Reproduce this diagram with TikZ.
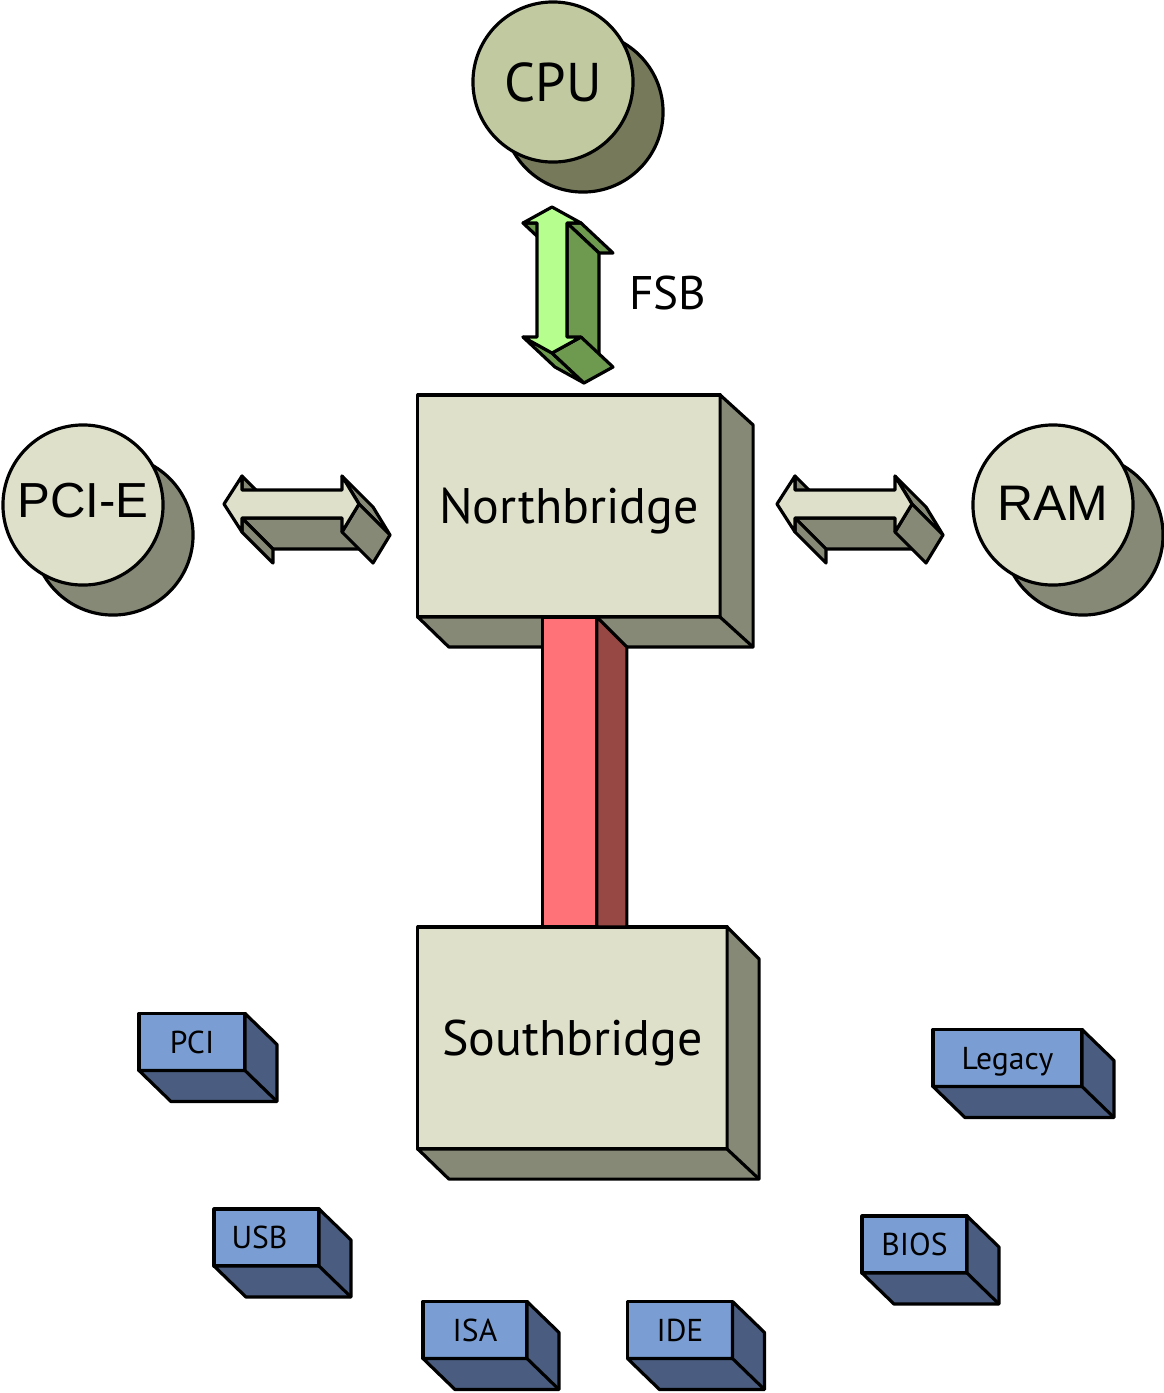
\documentclass[tikz,border=0pt]{standalone}
\usepackage{fontspec}
\setmainfont{PT Sans}
\newfontfamily\arialfont{Liberation Sans}
\usetikzlibrary{calc}

\definecolor{boxfront}{HTML}{DFE0CA}
\definecolor{boxside}{HTML}{878977}
\definecolor{cpufront}{HTML}{C1C9A0}
\definecolor{cpuside}{HTML}{767A5A}
\definecolor{fsbfront}{HTML}{B6FF8F}
\definecolor{fsbside}{HTML}{6E9A50}
\definecolor{busfront}{HTML}{FF7378}
\definecolor{busside}{HTML}{974845}
\definecolor{chipfront}{HTML}{7A9ED3}
\definecolor{chipside}{HTML}{4A5D80}

\tikzset{
	outline/.style={draw=black, line width=0.9pt, line join=round},
	bridge/.style={outline, fill=boxfront, rectangle, outer sep=0pt, inner sep=0pt, text height=10pt, text depth=0pt, font=\fontsize{14.2}{17}\selectfont},
	chip/.style={outline, fill=chipfront, rectangle, outer sep=0pt, inner sep=0pt, minimum height=0.57cm, text height=6.3pt, text depth=0pt, font=\fontsize{9}{11}\selectfont},
	disc/.style={outline, circle, minimum size=1.6cm, inner sep=0pt, outer sep=0pt},
}

\begin{document}
\begin{tikzpicture}[x=0.01cm, y=-0.01cm]
			\useasboundingbox (0,0) rectangle (1164,1393);
			
			%cpu
			\node[disc, fill=cpuside] (cpushadow) at (583,112) {};
			\node[disc, fill=cpufront, text height=10.8pt, text depth=0pt, font=\fontsize{15.5}{18}\selectfont] (cpu) at (553,82) {CPU};
			
			%pci-e and ram
			\node[disc, fill=boxside] (pcieshadow) at (113,535) {};
			\node[disc, fill=boxfront, text height=10pt, text depth=3pt, font=\arialfont\fontsize{14}{17}\selectfont] (pcie) at (83,505) {PCI-E};
			\node[disc, fill=boxside] (ramshadow) at (1083,535) {};
			\node[disc, fill=boxfront, text height=10pt, text depth=1pt, font=\arialfont\fontsize{14.2}{17}\selectfont] (ram) at (1053,505) {RAM};
			
			%fsb arrow
			\begin{scope}[shift={(552,207)}]
				\filldraw[outline, fill=fsbside] (-15,16) -- (-29,16) -- ++(32,30) -- ++(14,0) -- cycle;
				\filldraw[outline, fill=fsbside] (29,16) -- (15,16) -- ++(32,30) -- ++(14,0) -- cycle;
				\filldraw[outline, fill=fsbside] (15,16) -- (15,130) -- ++(32,30) -- ++(0,-114) -- cycle;
				\filldraw[outline, fill=fsbside] (0,146) -- (-29,130) -- ++(32,30) -- ++(29,16) -- cycle;
				\filldraw[outline, fill=fsbside] (29,130) -- (0,146) -- ++(32,30) -- ++(29,-16) -- cycle;
				\filldraw[outline, fill=fsbfront] (0,0) -- (29,16) -- (15,16) -- (15,130) -- (29,130) -- (0,146) -- (-29,130) -- (-15,130) -- (-15,16) -- (-29,16) -- cycle;
			\end{scope}
			\node[inner sep=0pt, text height=9.4pt, text depth=0pt, font=\fontsize{13.4}{16}\selectfont] (fsb) at (668,293) {FSB};
			
			%side arrows
			\foreach \ax in {224, 777}{
				\begin{scope}[shift={(\ax,504)}]
					\filldraw[outline, fill=boxside] (18,-28) -- (18,-14) -- ++(31,31) -- ++(0,-14) -- cycle;
					\filldraw[outline, fill=boxside] (118,-28) -- (135,0) -- ++(31,31) -- ++(-17,-28) -- cycle;
					\filldraw[outline, fill=boxside] (118,14) -- (18,14) -- ++(31,31) -- ++(100,0) -- cycle;
					\filldraw[outline, fill=boxside] (18,14) -- (18,28) -- ++(31,31) -- ++(0,-14) -- cycle;
					\filldraw[outline, fill=boxside] (135,0) -- (118,28) -- ++(31,31) -- ++(17,-28) -- cycle;
					\filldraw[outline, fill=boxfront] (0,0) -- (18,-28) -- (18,-14) -- (118,-14) -- (118,-28) -- (135,0) -- (118,28) -- (118,14) -- (18,14) -- (18,28) -- cycle;
				\end{scope}
			}
			
			%northbridge
			\node[bridge, minimum width=3.02cm, minimum height=2.22cm] (nb) at (569,506) {Northbridge};
			\filldraw[outline, fill=boxside] (nb.south west) -- ++(31,30) -- ($(nb.south east)+(33,30)$) -- ($(nb.north east)+(33,30)$) -- (nb.north east) -- (nb.south east) -- cycle;
			\draw[outline] (nb.south east) -- ++(33,30);
			
			%southbridge
			\node[bridge, minimum width=3.09cm, minimum height=2.22cm] (sb) at (572.5,1038) {Southbridge};
			\filldraw[outline, fill=boxside] (sb.south west) -- ++(31,30) -- ($(sb.south east)+(32,30)$) -- ($(sb.north east)+(32,32)$) -- (sb.north east) -- (sb.south east) -- cycle;
			\draw[outline] (sb.south east) -- ++(32,30);
			
			%bus between the bridges
			\filldraw[outline, fill=busfront] ($(nb.south west)+(125,0)$) rectangle ($(sb.north west)+(179,0)$);
			\filldraw[outline, fill=busside] ($(nb.south west)+(179,0)$) -- ++(30,30) -- ($(sb.north west)+(209,0)$) -- ($(sb.north west)+(179,0)$) -- cycle;
			
			%chips
			\foreach \cx/\cy/\w/\lbl/\nm/\tx in {192/1042/106/PCI/pci/0cm, 266.5/1237.5/105/USB/usb/-0.14cm, 475/1330/104/ISA/isa/0cm, 680/1330/105/IDE/ide/0cm, 914.5/1244.5/105/BIOS/bios/0cm, 1007.5/1058/149/Legacy/legacy/0cm}{
				\node[chip, minimum width=\w*0.01cm] (\nm) at (\cx,\cy) {\kern\tx\lbl};
				\filldraw[outline, fill=chipside] (\nm.south west) -- ++(32,31) -- ($(\nm.south east)+(32,31)$) -- ($(\nm.north east)+(32,31)$) -- (\nm.north east) -- (\nm.south east) -- cycle;
				\draw[outline] (\nm.south east) -- ++(32,31);
			}
		\end{tikzpicture}
\end{document}
